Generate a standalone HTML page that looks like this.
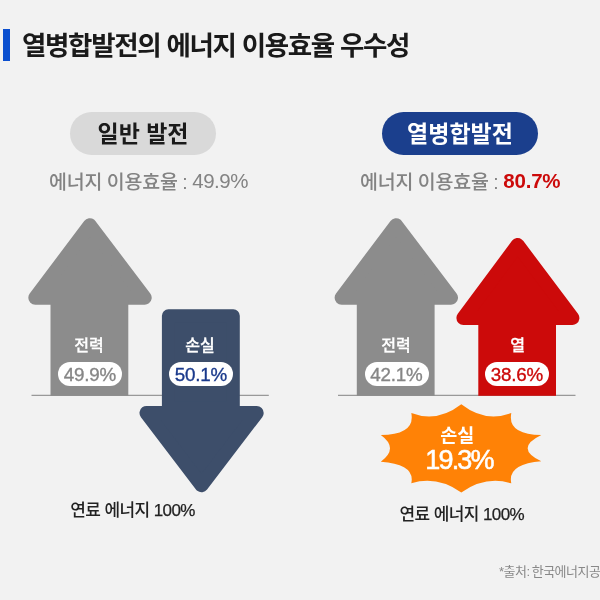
<!DOCTYPE html>
<html lang="ko">
<head>
<meta charset="utf-8">
<title>열병합발전의 에너지 이용효율 우수성</title>
<style>
  html, body { margin: 0; padding: 0; }
  body {
    width: 600px; height: 600px; overflow: hidden; position: relative;
    background: #f2f2f2;
    font-family: "Liberation Sans", "Noto Sans CJK KR", sans-serif;
    color: #222;
  }
  .abs { position: absolute; white-space: nowrap; line-height: 1; }
  svg.shapes { position: absolute; left: 0; top: 0; }
  .bar { position: absolute; left: 3px; top: 29px; width: 7px; height: 32px; background: #0b4fcf; }
  .title { left: 22px; top: 33px; font-size: 26.5px; font-weight: 700; letter-spacing: -1.32px; color: #1a1a1a; }
  .pill { position: absolute; border-radius: 22px; height: 43px; top: 112px; text-align: center;
          font-weight: 700; font-size: 23px; line-height: 45px; white-space: nowrap; }
  .pill.gray { left: 70px; width: 146px; background: #d9d9d9; color: #1a1a1a; }
  .pill.blue { left: 382px; width: 156px; background: #1b3f8d; color: #fff; }
  .eff { font-size: 19.5px; font-weight: 500; color: #838383; top: 172px; letter-spacing: -0.23px; word-spacing: -0.5px; }
  .eff span, .eff b { font-size: 20.5px; letter-spacing: -0.5px; position: relative; top: -1px; }
  .eff b { color: #cc0a0a; font-weight: 700; letter-spacing: -0.2px; }
  .lbl { color: #fff; -webkit-text-stroke: 0.3px #fff; font-weight: 500; font-size: 16px; text-align: center; width: 80px; }
  .val { position: absolute; background: #fff; border-radius: 12px; height: 24px; width: 64px; text-align: center;
         font-size: 18.8px; line-height: 25px; font-weight: 500; color: #868686; white-space: nowrap; letter-spacing: -0.2px; -webkit-text-stroke: 0.35px currentColor; }
  .fuel { font-size: 17px; font-weight: 500; color: #222; letter-spacing: -0.6px; }
  .fuel span { -webkit-text-stroke: 0.25px #222; }
  .src { font-size: 13px; color: #888; left: 499px; top: 565px; letter-spacing: -0.5px; word-spacing: -1px; }
  .loss1 { color: #fff; font-weight: 700; font-size: 18.5px; width: 120px; text-align: center; left: 397.2px; top: 427px; }
  .loss2 { color: #fff; -webkit-text-stroke: 0.55px #fff; font-weight: 400; font-size: 27px; width: 120px; text-align: center; left: 399px; top: 446.5px; letter-spacing: -1.8px; }
</style>
</head>
<body>
<svg class="shapes" width="600" height="600" viewBox="0 0 600 600">
  <!-- baseline rules -->
  <rect x="31.5" y="394.8" width="237.3" height="1" fill="#838383"/>
  <rect x="338" y="394.8" width="237.5" height="1" fill="#838383"/>
  <!-- left gray up arrow -->
  <g fill="#8c8c8c" stroke="#8c8c8c" stroke-linejoin="round">
    <path d="M89.8 225.2 L144.7 297.7 L35.3 297.7 Z" stroke-width="14"/>
    <rect x="50.5" y="300" width="77.8" height="95.8" stroke="none"/>
  </g>
  <!-- dark down arrow -->
  <g fill="#3d4e6a" stroke="#3d4e6a" stroke-linejoin="round">
    <path d="M168.4 315.8 H233.3 V408 H168.4 Z" stroke-width="13"/>
    <path d="M146.5 412.9 H256.7 L201.5 485.2 Z" stroke-width="14"/>
  </g>
  <!-- right gray up arrow -->
  <g fill="#8c8c8c" stroke="#8c8c8c" stroke-linejoin="round" transform="translate(306.3 0)">
    <path d="M89.8 225.2 L144.7 297.7 L35.3 297.7 Z" stroke-width="14"/>
    <rect x="50.5" y="300" width="77.8" height="95.8" stroke="none"/>
  </g>
  <!-- red up arrow -->
  <g fill="#cc0a0a" stroke="#cc0a0a" stroke-linejoin="round">
    <path d="M517.6 245 L572.4 318 L463.4 318 Z" stroke-width="14"/>
    <rect x="478.3" y="320" width="77.7" height="75.8" stroke="none"/>
  </g>
  <!-- burst -->
  <path fill="#ff8206" d="M461.3 404.2
    Q437.1 423 411.3 413
    Q415.5 434.4 380.8 435
    Q399.2 448.3 380.8 461.7
    Q415.5 464.1 411.3 483.3
    Q437.1 475.5 461.3 492.5
    Q485.5 475.5 511.3 483.3
    Q507.1 464.1 541.3 461.3
    Q514 448.3 541.3 435
    Q507.1 434.4 511.3 413
    Q485.5 423 461.3 404.2 Z"/>
</svg>

<div class="bar"></div>
<div class="abs title">열병합발전의 에너지 이용효율 우수성</div>

<div class="pill gray">일반 발전</div>
<div class="pill blue">열병합발전</div>

<div class="abs eff" style="left:49px;">에너지 이용효율 : <span>49.9%</span></div>
<div class="abs eff" style="left:360px;">에너지 이용효율 : <b>80.7%</b></div>

<div class="abs lbl" style="left:49px; top:338px;">전력</div>
<div class="val" style="left:58px; top:362px;">49.9%</div>

<div class="abs lbl" style="left:160px; top:338px;">손실</div>
<div class="val" style="left:169px; top:362px; color:#1a3a8c;">50.1%</div>

<div class="abs lbl" style="left:356px; top:338px;">전력</div>
<div class="val" style="left:364.5px; top:362px;">42.1%</div>

<div class="abs lbl" style="left:477.5px; top:338px;">열</div>
<div class="val" style="left:485px; top:362px; color:#cc0a0a;">38.6%</div>

<div class="abs loss1">손실</div>
<div class="abs loss2">19.3%</div>

<div class="abs fuel" style="left:70.3px; top:501.5px;">연료 에너지 <span>100%</span></div>
<div class="abs fuel" style="left:399.5px; top:506.3px;">연료 에너지 <span>100%</span></div>

<div class="abs src">*출처: 한국에너지공단</div>
</body>
</html>
